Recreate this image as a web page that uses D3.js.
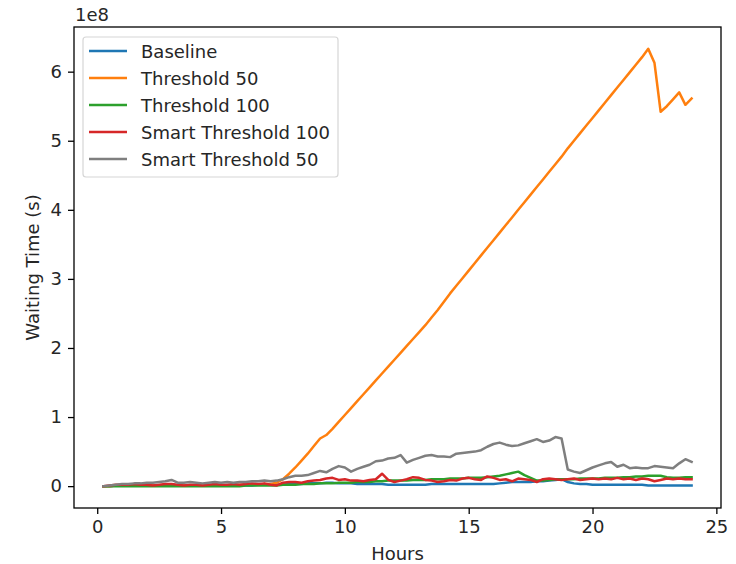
<!DOCTYPE html>
<html>
<head>
<meta charset="utf-8">
<script src="https://cdn.jsdelivr.net/npm/d3@7"></script>
<style>
  body { margin: 0; background: #fff; }
  text { font-family: "DejaVu Sans", sans-serif; }
</style>
</head>
<body>
<div class="svg"></div>
<script>
// sample times, every 15 minutes
var hours = d3.range(1, 97).map(function (k) { return k / 4; });

var seriesNames = ["Baseline", "Threshold 50", "Threshold 100", "Smart Threshold 100", "Smart Threshold 50"];
var seriesColors = ["#1f77b4", "#ff7f0e", "#2ca02c", "#d62728", "#7f7f7f"];

// values in units of 1e8 seconds
var baseline = [
  0.00, 0.00, 0.01, 0.01,  0.01, 0.01, 0.01, 0.01,  0.01, 0.01, 0.01, 0.01,
  0.01, 0.01, 0.01, 0.01,  0.01, 0.01, 0.01, 0.01,  0.01, 0.01, 0.01, 0.01,
  0.01, 0.02, 0.02, 0.02,  0.02, 0.02, 0.03, 0.03,  0.03, 0.04, 0.04, 0.04,
  0.05, 0.05, 0.04, 0.04,  0.04, 0.03, 0.03, 0.03,  0.03, 0.03, 0.02, 0.02,
  0.02, 0.02, 0.02, 0.02,  0.02, 0.03, 0.03, 0.03,  0.03, 0.03, 0.03, 0.03,
  0.03, 0.03, 0.03, 0.03,  0.04, 0.05, 0.06, 0.06,  0.06, 0.06, 0.07, 0.07,
  0.08, 0.09, 0.10, 0.06,  0.04, 0.03, 0.03, 0.02,  0.02, 0.02, 0.02, 0.02,
  0.02, 0.02, 0.02, 0.02,  0.01, 0.01, 0.01, 0.01,  0.01, 0.01, 0.01, 0.01
];

var threshold50 = [
  0.00, 0.00, 0.01, 0.01,  0.01, 0.01, 0.01, 0.01,  0.01, 0.01, 0.01, 0.01,
  0.01, 0.01, 0.01, 0.01,  0.01, 0.01, 0.01, 0.01,  0.01, 0.01, 0.02, 0.02,
  0.02, 0.02, 0.03, 0.03,  0.05, 0.10, 0.18, 0.27,  0.37, 0.47, 0.58, 0.69,
  0.74, 0.83, 0.93, 1.03,  1.13, 1.23, 1.33, 1.43,  1.53, 1.63, 1.73, 1.83,
  1.93, 2.03, 2.13, 2.23,  2.33, 2.44, 2.55, 2.67,  2.79, 2.90, 3.01, 3.12,
  3.23, 3.34, 3.45, 3.56,  3.67, 3.78, 3.89, 4.00,  4.11, 4.22, 4.33, 4.44,
  4.55, 4.66, 4.77, 4.89,  5.00, 5.11, 5.22, 5.33,  5.44, 5.55, 5.66, 5.77,
  5.88, 5.99, 6.10, 6.21,  6.33, 6.13, 5.42, 5.50,  5.60, 5.70, 5.52, 5.61
];

var threshold100 = [
  0.00, 0.00, 0.00, 0.00,  0.00, 0.00, 0.00, 0.00,  0.00, 0.00, 0.00, 0.00,
  0.00, 0.00, 0.00, 0.00,  0.00, 0.00, 0.00, 0.00,  0.00, 0.00, 0.00, 0.01,
  0.01, 0.01, 0.01, 0.01,  0.01, 0.02, 0.02, 0.02,  0.03, 0.03, 0.03, 0.04,
  0.04, 0.04, 0.05, 0.05,  0.05, 0.06, 0.06, 0.06,  0.07, 0.07, 0.08, 0.08,
  0.08, 0.08, 0.09, 0.09,  0.09, 0.10, 0.10, 0.10,  0.11, 0.11, 0.11, 0.12,
  0.12, 0.12, 0.13, 0.14,  0.15, 0.17, 0.19, 0.21,  0.16, 0.12, 0.08, 0.08,
  0.09, 0.10, 0.10, 0.10,  0.10, 0.11, 0.11, 0.11,  0.11, 0.12, 0.12, 0.12,
  0.13, 0.13, 0.14, 0.14,  0.15, 0.15, 0.15, 0.13,  0.12, 0.12, 0.13, 0.13
];

var smart100 = [
  0.00, 0.01, 0.02, 0.02,  0.02, 0.03, 0.02, 0.02,  0.01, 0.02, 0.03, 0.03,
  0.02, 0.01, 0.02, 0.02,  0.01, 0.02, 0.03, 0.02,  0.02, 0.03, 0.02, 0.03,
  0.04, 0.03, 0.04, 0.02,  0.01, 0.05, 0.06, 0.06,  0.05, 0.07, 0.08, 0.09,
  0.11, 0.12, 0.09, 0.10,  0.08, 0.08, 0.07, 0.09,  0.10, 0.18, 0.09, 0.06,
  0.08, 0.10, 0.13, 0.12,  0.09, 0.08, 0.06, 0.07,  0.09, 0.08, 0.11, 0.12,
  0.10, 0.09, 0.14, 0.12,  0.09, 0.10, 0.07, 0.11,  0.10, 0.09, 0.06, 0.10,
  0.11, 0.10, 0.09, 0.10,  0.11, 0.09, 0.10, 0.11,  0.10, 0.11, 0.10, 0.12,
  0.10, 0.11, 0.09, 0.11,  0.10, 0.07, 0.09, 0.11,  0.10, 0.11, 0.10, 0.10
];

var smart50 = [
  0.00, 0.01, 0.02, 0.03,  0.03, 0.04, 0.04, 0.05,  0.05, 0.06, 0.07, 0.09,
  0.05, 0.05, 0.06, 0.05,  0.04, 0.05, 0.06, 0.05,  0.06, 0.05, 0.06, 0.06,
  0.07, 0.07, 0.08, 0.07,  0.08, 0.10, 0.13, 0.15,  0.15, 0.16, 0.19, 0.22,
  0.20, 0.25, 0.29, 0.27,  0.21, 0.25, 0.28, 0.31,  0.36, 0.37, 0.40, 0.41,
  0.45, 0.34, 0.38, 0.41,  0.44, 0.45, 0.43, 0.43,  0.42, 0.47, 0.48, 0.49,
  0.50, 0.52, 0.57, 0.61,  0.63, 0.60, 0.58, 0.59,  0.62, 0.65, 0.68, 0.64,
  0.66, 0.71, 0.69, 0.24,  0.21, 0.19, 0.23, 0.27,  0.30, 0.33, 0.35, 0.28,
  0.31, 0.26, 0.27, 0.26,  0.26, 0.29, 0.28, 0.27,  0.26, 0.33, 0.39, 0.35
];

var xTicks = [0, 5, 10, 15, 20, 25];
var yTicks = [0, 1, 2, 3, 4, 5, 6];

function drawChart() {
    var width = 736,
        height = 564;
    var left = 74, right = 721, top = 27, bottom = 508;

    var svg = d3.select(".svg").append("svg")
        .attr("width", width)
        .attr("height", height);

    var allSeries = [baseline, threshold50, threshold100, smart100, smart50];

    // matplotlib style 5% margins
    var xExt = d3.extent(hours);
    var xPad = (xExt[1] - xExt[0]) * 0.05;
    var yMin = d3.min(allSeries, function (s) { return d3.min(s); }),
        yMax = d3.max(allSeries, function (s) { return d3.max(s); });
    var yPad = (yMax - yMin) * 0.05;

    var x = d3.scaleLinear()
        .domain([xExt[0] - xPad, xExt[1] + xPad])
        .range([left, right]);
    var y = d3.scaleLinear()
        .domain([yMin - yPad, yMax + yPad])
        .range([bottom, top]);

    var line = d3.line()
        .x(function (d, i) { return x(hours[i]); })
        .y(function (d) { return y(d); });

    svg.append("g").selectAll("path")
        .data(allSeries)
        .enter().append("path")
        .attr("d", line)
        .attr("fill", "none")
        .attr("stroke", function (d, i) { return seriesColors[i]; })
        .attr("stroke-width", 2.5)
        .attr("stroke-linejoin", "round")
        .attr("stroke-linecap", "square");

    // axes
    var xAxis = d3.axisBottom(x).tickValues(xTicks).tickSize(6).tickPadding(6)
        .tickFormat(d3.format("d"));
    var yAxis = d3.axisLeft(y).tickValues(yTicks).tickSize(6).tickPadding(6)
        .tickFormat(d3.format("d"));

    var gx = svg.append("g").attr("transform", "translate(0," + bottom + ")").call(xAxis);
    var gy = svg.append("g").attr("transform", "translate(" + left + ",0)").call(yAxis);
    [gx, gy].forEach(function (g) {
        g.select(".domain").remove();
        g.selectAll(".tick line").attr("stroke", "#000").attr("stroke-width", 1.3);
        g.selectAll(".tick text").attr("fill", "#262626")
            .style("font-size", "18px");
    });

    // frame
    svg.append("rect")
        .attr("x", left).attr("y", top)
        .attr("width", right - left).attr("height", bottom - top)
        .attr("fill", "none").attr("stroke", "#000").attr("stroke-width", 1.3);

    svg.append("text")
        .attr("x", (left + right) / 2).attr("y", 560)
        .attr("text-anchor", "middle")
        .style("font-size", "18px").attr("fill", "#262626")
        .text("Hours");

    svg.append("text")
        .attr("transform", "translate(39," + (top + bottom) / 2 + ") rotate(-90)")
        .attr("text-anchor", "middle")
        .style("font-size", "18px").attr("fill", "#262626")
        .text("Waiting Time (s)");

    svg.append("text")
        .attr("x", left + 1).attr("y", 21)
        .style("font-size", "18px").attr("fill", "#262626")
        .text("1e8");

    // legend
    var lg = svg.append("g");
    lg.append("rect")
        .attr("x", 83).attr("y", 37)
        .attr("width", 255).attr("height", 140)
        .attr("rx", 3)
        .attr("fill", "#fff").attr("fill-opacity", 0.8)
        .attr("stroke", "#d6d6d6").attr("stroke-width", 1.2);

    var rows = lg.selectAll("g.item")
        .data(seriesNames)
        .enter().append("g")
        .attr("class", "item")
        .attr("transform", function (d, i) { return "translate(0," + (51 + i * 27) + ")"; });
    rows.append("line")
        .attr("x1", 89).attr("x2", 127)
        .attr("stroke", function (d, i) { return seriesColors[i]; })
        .attr("stroke-width", 2.5);
    rows.append("text")
        .attr("x", 141).attr("y", 6.5)
        .style("font-size", "18px").attr("fill", "#262626")
        .text(function (d) { return d; });
}

drawChart();
</script>
</body>
</html>
